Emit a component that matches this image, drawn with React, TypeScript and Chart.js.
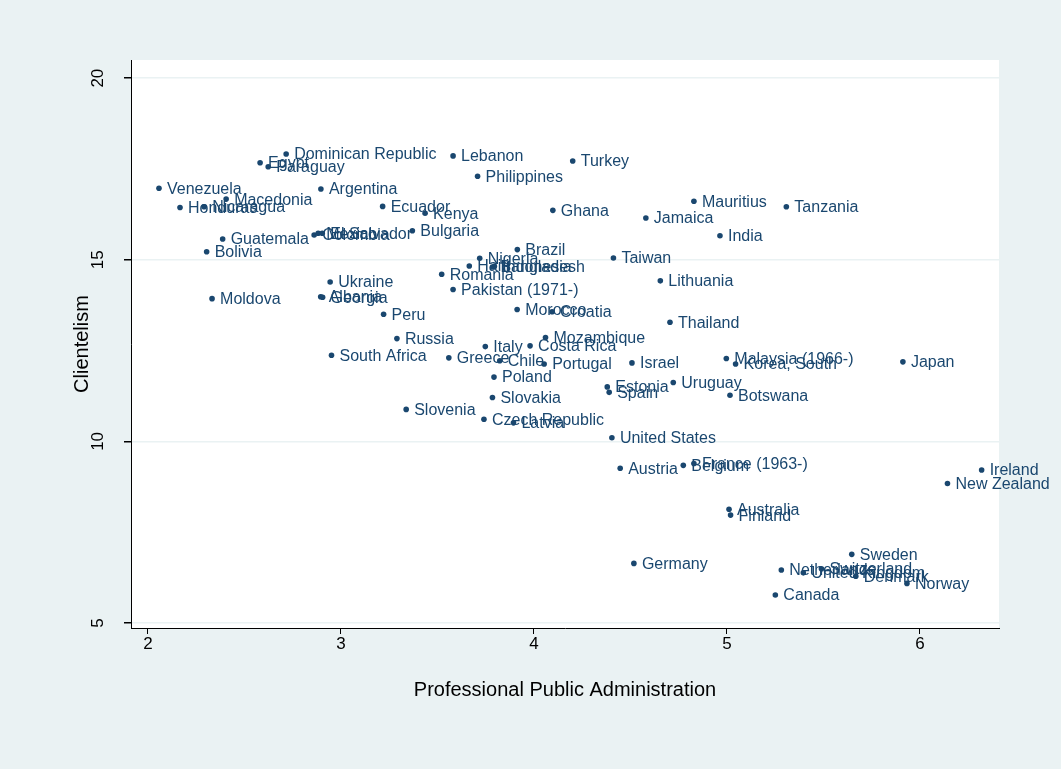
import React, { useEffect, useRef } from "react";
import { Chart, registerables } from "chart.js";

Chart.register(...registerables);

const countries = [
  "Venezuela", "Honduras", "Nicaragua", "Macedonia", "Egypt", "Paraguay",
  "Dominican Republic", "Argentina", "Ecuador", "Kenya", "Bulgaria", "Colombia",
  "Mexico", "El Salvador", "Guatemala", "Bolivia", "Ukraine", "Moldova",
  "Albania", "Georgia", "Peru", "Russia", "South Africa", "Slovenia",
  "Lebanon", "Turkey", "Philippines", "Ghana", "Mauritius", "Jamaica",
  "Tanzania", "India", "Brazil", "Nigeria", "Taiwan", "Lithuania",
  "Romania", "Pakistan (1971-)", "Haiti", "Indonesia", "Bangladesh", "Morocco",
  "Croatia", "Thailand", "Mozambique", "Italy", "Costa Rica", "Greece",
  "Chile", "Portugal", "Israel", "Poland", "Estonia", "Spain",
  "Uruguay", "Slovakia", "Czech Republic", "Latvia", "United States", "Malaysia (1966-)",
  "Korea, South", "Japan", "Botswana", "Austria", "Belgium", "France (1963-)",
  "Ireland", "New Zealand", "Australia", "Finland", "Germany", "Sweden",
  "Netherlands", "United Kingdom", "Switzerland", "Denmark", "Norway", "Canada",
];

const ppa = [
  2.057, 2.166, 2.291, 2.405, 2.581, 2.623,
  2.716, 2.896, 3.216, 3.436, 3.370, 2.861,
  2.882, 2.903, 2.387, 2.304, 2.944, 2.332,
  2.895, 2.905, 3.221, 3.290, 2.951, 3.338,
  3.581, 4.201, 3.708, 4.098, 4.829, 4.580,
  5.308, 4.964, 3.914, 3.719, 4.412, 4.655,
  3.522, 3.581, 3.665, 3.795, 3.785, 3.913,
  4.094, 4.705, 4.060, 3.748, 3.980, 3.559,
  3.823, 4.053, 4.508, 3.793, 4.380, 4.390,
  4.722, 3.785, 3.741, 3.894, 4.404, 4.997,
  5.045, 5.912, 5.016, 4.447, 4.774, 4.829,
  6.320, 6.143, 5.011, 5.019, 4.518, 5.647,
  5.282, 5.396, 5.490, 5.668, 5.933, 5.251,
];

const clientelism = [
  16.97, 16.44, 16.46, 16.67, 17.67, 17.56,
  17.91, 16.95, 16.47, 16.28, 15.80, 15.68,
  15.73, 15.73, 15.57, 15.22, 14.39, 13.93,
  13.98, 13.97, 13.50, 12.83, 12.37, 10.88,
  17.86, 17.72, 17.30, 16.36, 16.61, 16.15,
  16.46, 15.66, 15.28, 15.04, 15.05, 14.42,
  14.60, 14.18, 14.83, 14.82, 14.80, 13.63,
  13.57, 13.28, 12.86, 12.61, 12.63, 12.30,
  12.22, 12.13, 12.16, 11.77, 11.50, 11.35,
  11.62, 11.21, 10.61, 10.51, 10.10, 12.28,
  12.13, 12.19, 11.27, 9.26, 9.34, 9.39,
  9.21, 8.84, 8.13, 7.97, 6.64, 6.89,
  6.46, 6.38, 6.49, 6.29, 6.09, 5.77,
];

const xTicks = [2, 3, 4, 5, 6];
const yTicks = [5, 10, 15, 20];
const xTitle = "Professional Public Administration";
const yTitle = "Clientelism";

const NAVY = "#1a476f";
const BG = "#eaf2f3";
const FONT = "'Liberation Sans', Arial, Helvetica, sans-serif";

export default function App() {
  const ref = useRef<HTMLCanvasElement>(null);

  useEffect(() => {
    document.body.style.margin = "0";
    const canvas = ref.current;
    if (!canvas) return;

    const bgPlugin = {
      id: "bgPlugin",
      beforeDraw(chart: any) {
        const { ctx, chartArea: a, width, height } = chart;
        ctx.save();
        ctx.fillStyle = BG;
        ctx.fillRect(0, 0, width, height);
        ctx.fillStyle = "#ffffff";
        ctx.fillRect(a.left, a.top, a.right - a.left, a.bottom - a.top);
        ctx.restore();
      },
    };

    const labelPlugin = {
      id: "labelPlugin",
      afterDatasetsDraw(chart: any) {
        const { ctx } = chart;
        const meta = chart.getDatasetMeta(0);
        ctx.save();
        ctx.font = `16px ${FONT}`;
        ctx.fillStyle = NAVY;
        ctx.textAlign = "left";
        ctx.textBaseline = "middle";
        meta.data.forEach((pt: any, i: number) => {
          ctx.fillText(countries[i], pt.x + 8, pt.y + 1);
        });
        ctx.restore();
      },
    };

    const yTickLabelPlugin = {
      id: "yTickLabelPlugin",
      afterDraw(chart: any) {
        const { ctx } = chart;
        const s = chart.scales.y;
        ctx.save();
        ctx.font = `17px ${FONT}`;
        ctx.fillStyle = "#000000";
        ctx.textAlign = "center";
        ctx.textBaseline = "middle";
        s.ticks.forEach((t: any) => {
          const p = s.getPixelForValue(t.value);
          ctx.save();
          ctx.translate(98, p);
          ctx.rotate(-Math.PI / 2);
          ctx.fillText(String(t.value), 0, 0);
          ctx.restore();
        });
        ctx.restore();
      },
    };

    const chart = new Chart(canvas, {
      type: "scatter",
      data: {
        datasets: [
          {
            data: ppa.map((x, i) => ({ x, y: clientelism[i] })),
            pointRadius: 2.8,
            pointHoverRadius: 2.8,
            backgroundColor: NAVY,
            borderWidth: 0,
            showLine: false,
          },
        ],
      },
      options: {
        responsive: false,
        animation: false,
        devicePixelRatio: 1,
        layout: { padding: { top: 60, right: 62, left: 0, bottom: 0 } },
        plugins: {
          legend: { display: false },
          tooltip: { enabled: false },
        },
        scales: {
          x: {
            type: "linear",
            min: 1.912,
            max: 6.41,
            afterBuildTicks: (s: any) => {
              s.ticks = xTicks.map((v) => ({ value: v }));
            },
            afterFit: (s: any) => {
              s.height = 141;
            },
            ticks: {
              color: "#000000",
              font: { family: FONT, size: 17 },
              padding: 0,
              maxRotation: 0,
              minRotation: 0,
              autoSkip: false,
            },
            grid: {
              drawOnChartArea: false,
              drawTicks: true,
              tickLength: 6,
              tickColor: "#000000",
              color: BG,
            },
            border: { display: true, color: "#000000", width: 1 },
            title: {
              display: true,
              text: xTitle,
              color: "#000000",
              font: { family: FONT, size: 20 },
              padding: { top: 0, bottom: 67 },
            },
          },
          y: {
            type: "linear",
            min: 4.862,
            max: 20.5,
            afterBuildTicks: (s: any) => {
              s.ticks = yTicks.map((v) => ({ value: v }));
            },
            afterFit: (s: any) => {
              s.width = 131;
            },
            ticks: { display: false },
            grid: {
              drawOnChartArea: true,
              drawTicks: true,
              tickLength: 7,
              tickColor: "#000000",
              color: BG,
              lineWidth: 1.5,
            },
            border: { display: true, color: "#000000", width: 1 },
            title: {
              display: true,
              text: yTitle,
              color: "#000000",
              font: { family: FONT, size: 20 },
              padding: { top: 70, bottom: 0 },
            },
          },
        },
      },
      plugins: [bgPlugin, labelPlugin, yTickLabelPlugin],
    });

    return () => chart.destroy();
  }, []);

  return (
    <canvas
      ref={ref}
      width={1061}
      height={769}
      style={{ display: "block", width: 1061, height: 769 }}
    />
  );
}
